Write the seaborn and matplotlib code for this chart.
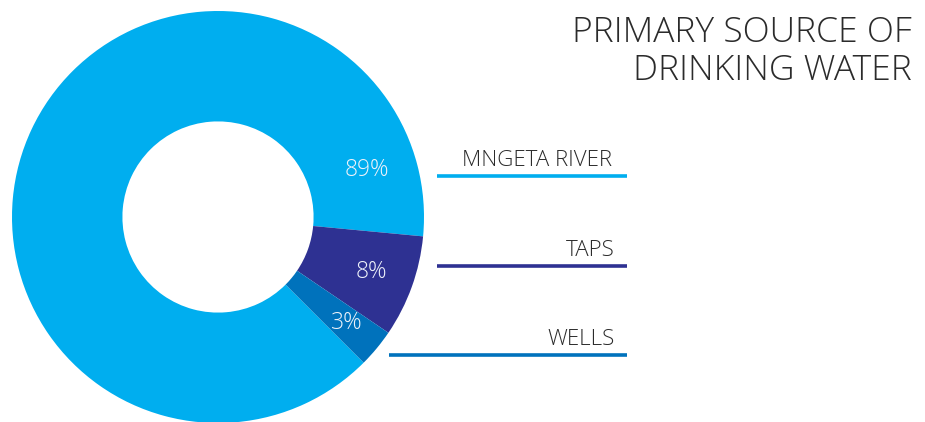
import numpy as np
import matplotlib
matplotlib.use("Agg")
import matplotlib.pyplot as plt
from matplotlib.lines import Line2D
import seaborn as sns

# Primary source of drinking water (share of households, %)
sources = ["MNGETA RIVER", "TAPS", "WELLS"]
shares = [89, 8, 3]
pct_labels = ["89%", "8%", "3%"]
colors = ["#00AEEF", "#2E3192", "#0072BC"]
title_lines = ["PRIMARY SOURCE OF", "DRINKING WATER"]

sns.set_theme(style="white")
plt.rcParams["font.family"] = ["Open Sans", "DejaVu Sans"]

W, H = 925, 422
fig = plt.figure(figsize=(W / 100, H / 100), dpi=100)
fig.patch.set_facecolor("white")


def fx(px):
    return px / W


def fy(py):
    return 1 - py / H


# donut: centre (218, 217) px, outer radius 206 px
cx, cy, R = 218, 217, 206
ax = fig.add_axes([fx(cx - R), fy(cy + R), 2 * R / W, 2 * R / H])
wedges, _ = ax.pie(
    shares,
    colors=sns.color_palette(colors),
    startangle=315,
    counterclock=False,
    wedgeprops=dict(width=0.536, linewidth=0),
)
ax.set_xlim(-1, 1)
ax.set_ylim(-1, 1)
ax.set_aspect("equal")
ax.axis("off")
for w in wedges:
    w.set_clip_on(False)

# percentage labels inside the ring
label_angles = []
for i, w in enumerate(wedges):
    mid = (w.theta1 + w.theta2) / 2
    label_angles.append(mid)
label_angles[0] = 17.5  # river label sits just above the taps wedge
label_r = [0.76, 0.79, 0.81]
for txt, ang, r in zip(pct_labels, label_angles, label_r):
    a = np.deg2rad(ang)
    ax.text(r * np.cos(a), r * np.sin(a), txt, ha="center", va="center",
            fontsize=16.5, color="#EEF2FA", fontweight="light")

# leader lines and source names
line_y = [176, 266, 355]
line_x0 = [437, 437, 389]
line_x1 = 627
text_right = [612, 615, 615]
for name, col, y, x0, xr in zip(sources, colors, line_y, line_x0, text_right):
    fig.add_artist(Line2D([fx(x0), fx(line_x1)], [fy(y), fy(y)],
                          color=col, linewidth=2.6, solid_capstyle="butt"))
    fig.text(fx(xr), fy(y - 10), name, ha="right", va="baseline",
             fontsize=16, color="#2B2B2B", fontweight="light")

# title, right aligned in the top-right corner
fig.text(fx(912), fy(42), title_lines[0], ha="right", va="baseline",
         fontsize=25.5, color="#2B2B2B", fontweight="light")
fig.text(fx(912), fy(80), title_lines[1], ha="right", va="baseline",
         fontsize=25.5, color="#2B2B2B", fontweight="light")

fig.savefig("out.png", dpi=100, facecolor="white")
